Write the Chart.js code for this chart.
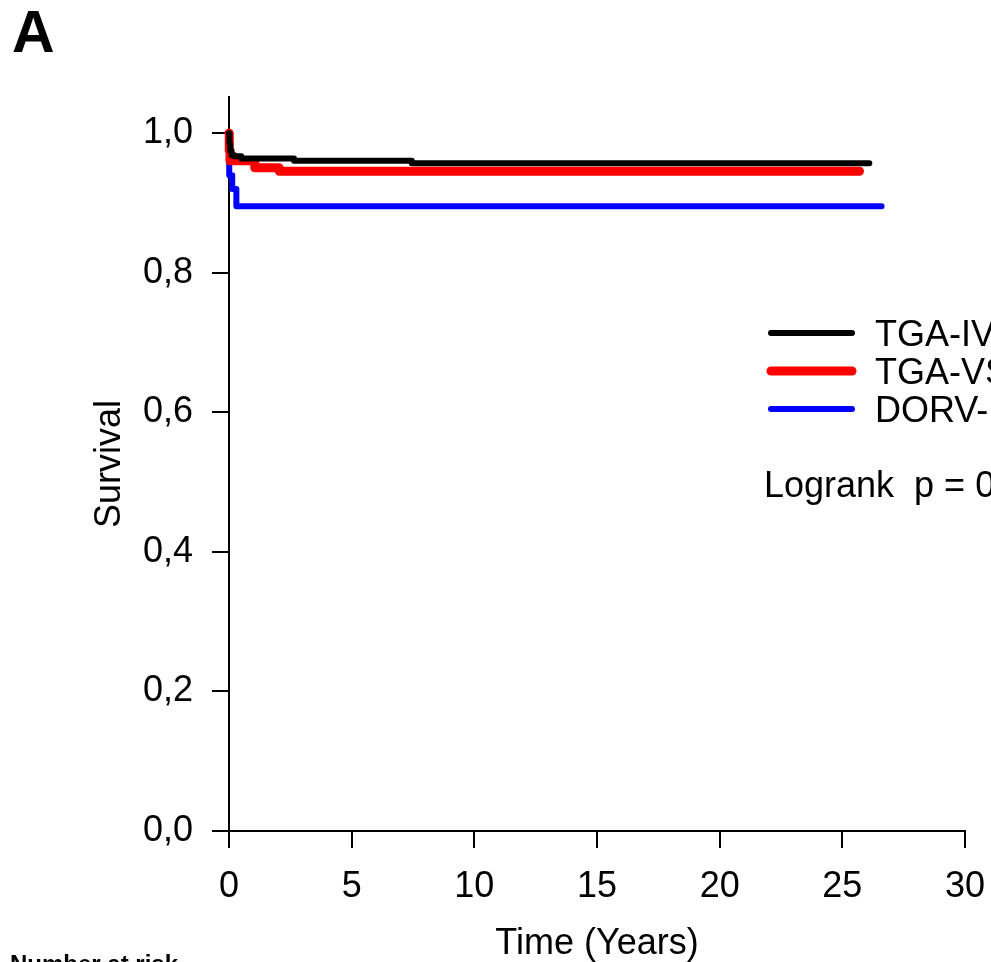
<!DOCTYPE html>
<html>
<head>
<meta charset="utf-8">
<script src="https://cdn.jsdelivr.net/npm/chart.js@4/dist/chart.umd.min.js"></script>
<style>
  html, body { margin: 0; padding: 0; background: #ffffff; }
  #wrap { width: 991px; height: 962px; position: relative; }
  canvas { display: block; }
</style>
</head>
<body>
<div id="wrap"><canvas id="c" width="991" height="962"></canvas></div>
<script>
// ---- Data ----
const seriesNames = ["TGA-IV", "TGA-VS", "DORV-"];
const seriesColors = ["#000000", "#ff0000", "#0000ff"];

const blackTime = [0, 0.02, 0.05, 0.1, 0.2, 0.5, 2.65, 7.45, 26.1];
const blackSurv = [1.0, 0.985, 0.975, 0.969, 0.967, 0.964, 0.9605, 0.957, 0.957];

const redTime = [0, 0.01, 0.04, 1.05, 2.05, 25.7];
const redSurv = [1.0, 0.975, 0.9605, 0.9505, 0.9456, 0.9456];

const blueTime = [0, 0.01, 0.13, 0.3, 26.6];
const blueSurv = [1.0, 0.94, 0.92, 0.8955, 0.8955];

const xTicks = [0, 5, 10, 15, 20, 25, 30];
const yTicks = [0, 0.2, 0.4, 0.6, 0.8, 1.0];

const panelLabel = "A";
const xTitle = "Time (Years)";
const yTitle = "Survival";
const testText = "Logrank  p = 0";
const riskText = "Number at risk";

function pts(t, s) { return t.map((v, i) => ({ x: v, y: s[i] })); }

const FONT = "'Liberation Sans', Arial, sans-serif";

const overlay = {
  id: 'overlay',
  afterDraw(chart) {
    const ctx = chart.ctx;
    ctx.save();
    ctx.fillStyle = '#000';
    ctx.textAlign = 'left';
    ctx.textBaseline = 'alphabetic';
    // Panel label
    ctx.font = "bold 59px " + FONT;
    ctx.fillText(panelLabel, 12, 52);
    // Legend
    const ly = [333, 371, 409];
    const lw = [6, 9, 6];
    ctx.lineCap = 'round';
    for (let i = 0; i < 3; i++) {
      ctx.strokeStyle = seriesColors[i];
      ctx.lineWidth = lw[i];
      ctx.beginPath();
      ctx.moveTo(771, ly[i]);
      ctx.lineTo(852, ly[i]);
      ctx.stroke();
      ctx.font = "36px " + FONT;
      ctx.fillText(seriesNames[i], 875, ly[i] + 13);
    }
    ctx.font = "36px " + FONT;
    ctx.fillText(testText, 764, 497);
    // Number at risk
    ctx.font = "bold 24px " + FONT;
    ctx.fillText(riskText, 10, 972);
    ctx.restore();
  }
};

const common = { pointRadius: 0, pointHoverRadius: 0, stepped: 'before', fill: false,
  borderCapStyle: 'round', borderJoinStyle: 'round', clip: false, tension: 0 };

new Chart(document.getElementById('c'), {
  type: 'line',
  data: {
    datasets: [
      Object.assign({ label: seriesNames[0], data: pts(blackTime, blackSurv), borderColor: seriesColors[0], borderWidth: 6 }, common),
      Object.assign({ label: seriesNames[1], data: pts(redTime, redSurv), borderColor: seriesColors[1], borderWidth: 9 }, common),
      Object.assign({ label: seriesNames[2], data: pts(blueTime, blueSurv), borderColor: seriesColors[2], borderWidth: 6 }, common)
    ]
  },
  options: {
    responsive: false,
    animation: false,
    events: [],
    layout: { padding: { top: 97, right: 26, left: 0, bottom: 0 } },
    plugins: { legend: { display: false }, tooltip: { enabled: false }, title: { display: false } },
    scales: {
      x: {
        type: 'linear', min: 0, max: 30,
        afterBuildTicks: (s) => { s.ticks = xTicks.map(v => ({ value: v })); },
        afterFit: (s) => { s.height = 131; s.paddingLeft = 0; s.paddingRight = 0; },
        grid: { display: true, drawOnChartArea: false, drawTicks: true, tickLength: 17, color: '#000', lineWidth: 2 },
        border: { display: true, color: '#000', width: 2 },
        ticks: { color: '#000', font: { family: FONT, size: 36 }, padding: 17, maxRotation: 0, autoSkip: false },
        title: { display: true, text: xTitle, color: '#000', font: { family: FONT, size: 36, lineHeight: 1 }, padding: { top: 0, bottom: 0 } }
      },
      y: {
        type: 'linear', min: 0, max: 1.052,
        afterBuildTicks: (s) => { s.ticks = yTicks.map(v => ({ value: v })); },
        afterFit: (s) => { s.width = 229; s.paddingTop = 0; s.paddingBottom = 0; },
        grid: { display: true, drawOnChartArea: false, drawTicks: true, tickLength: 17, color: '#000', lineWidth: 2 },
        border: { display: true, color: '#000', width: 2 },
        ticks: { color: '#000', font: { family: FONT, size: 36 }, padding: 19, autoSkip: false,
          callback: (v) => Number(v).toFixed(1).replace('.', ',') },
        title: { display: true, text: yTitle, color: '#000', font: { family: FONT, size: 36, lineHeight: 1 }, padding: { top: 92, bottom: 0 } }
      }
    }
  },
  plugins: [overlay]
});
</script>
</body>
</html>
